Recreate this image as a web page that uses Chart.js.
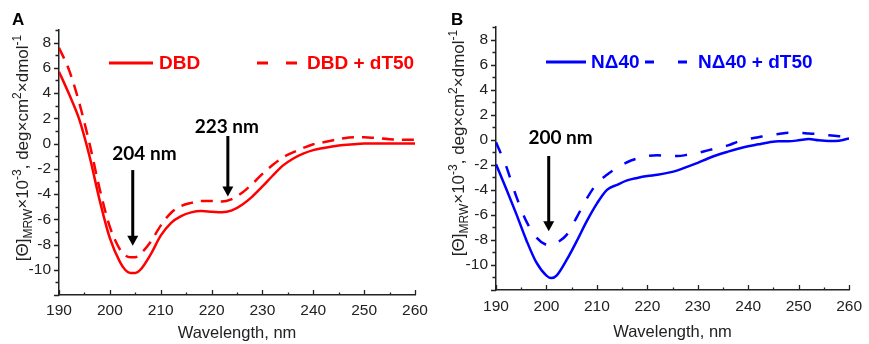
<!DOCTYPE html>
<html>
<head>
<meta charset="utf-8">
<script src="https://cdn.jsdelivr.net/npm/chart.js@4.4.0/dist/chart.umd.min.js"></script>
<style>
body{margin:0;background:#fff;width:869px;height:344px;overflow:hidden;position:relative}
canvas{position:absolute;top:0}
#chartA{left:0}
#chartB{left:434px}
</style>
</head>
<body>
<canvas id="chartA" width="434" height="344"></canvas>
<canvas id="chartB" width="435" height="344"></canvas>
<script>
// panel A: DBD
const wavelengthA = [190,192,194,196,198,200,202,203,204,205,206,208,210,212,214,216,218,220,222,224,226,228,230,232,234,236,238,240,242,245,248,250,252,255,258,260];
const dbd = [5.7,3.9,1.9,-1.0,-4.5,-7.5,-9.4,-10.0,-10.25,-10.25,-10.0,-8.8,-7.3,-6.3,-5.75,-5.45,-5.35,-5.4,-5.45,-5.3,-4.85,-4.2,-3.4,-2.55,-1.75,-1.2,-0.8,-0.52,-0.35,-0.15,-0.05,0,0,0,0,0];
const dbdDT50 = [7.6,5.8,3.2,0.0,-3.6,-6.6,-8.4,-8.85,-9.0,-9.0,-8.75,-7.8,-6.5,-5.5,-4.95,-4.7,-4.55,-4.55,-4.6,-4.4,-3.9,-3.2,-2.4,-1.7,-1.1,-0.7,-0.35,-0.05,0.1,0.35,0.5,0.5,0.45,0.35,0.3,0.3];

// panel B: N-delta-40
const wavelengthB = [190,192,194,196,198,200,201,202,204,206,208,210,212,214,216,218,220,222,224,226,228,230,232,234,236,238,240,242,244,246,248,250,252,254,256,258,260];
const nd40 = [-1.95,-3.9,-5.9,-8.0,-9.8,-10.85,-11.05,-10.85,-9.6,-8.1,-6.5,-5.1,-4.0,-3.6,-3.25,-3.05,-2.9,-2.8,-2.65,-2.45,-2.15,-1.85,-1.5,-1.2,-0.95,-0.72,-0.52,-0.37,-0.22,-0.12,-0.12,-0.05,0.05,-0.05,-0.1,-0.08,0.1];
const nd40DT50 = [-0.2,-2.1,-4.5,-6.5,-7.8,-8.4,-8.45,-8.25,-7.6,-6.2,-4.7,-3.5,-2.8,-2.25,-1.8,-1.5,-1.3,-1.25,-1.3,-1.3,-1.2,-1.05,-0.85,-0.65,-0.45,-0.15,0.05,0.2,0.35,0.45,0.55,0.55,0.5,0.45,0.35,0.28,0.25];

const xTicks = [190,200,210,220,230,240,250,260];
const yTicks = [-10,-8,-6,-4,-2,0,2,4,6,8];

// arrows: label, arrow wavelength, arrow top / tip value, label position
const peaksA = [
  {label: '204 nm', x: 204.5, top: -2.1, tip: -8.1, tx: 206.8, ty: -0.8},
  {label: '223 nm', x: 223.2, top: 0.6, tip: -4.2, tx: 223.0, ty: 1.35}
];
const peaksB = [
  {label: '200 nm', x: 200.45, top: -1.3, tip: -7.3, tx: 202.8, ty: 0.15}
];

const axisColor = '#222';
const sans = '"Liberation Sans", Arial, sans-serif';

const axisTicks = {
  id: 'axisTicks',
  afterDraw(chart) {
    const {ctx, chartArea, scales} = chart;
    ctx.save();
    ctx.strokeStyle = axisColor;
    ctx.lineWidth = 1.3;
    ctx.beginPath();
    for (let v = 190; v <= 260; v += 5) {
      let px = Math.round(scales.x.getPixelForValue(v)) + 0.5;
      let len = v % 10 == 0 ? 5 : 2.5;
      ctx.moveTo(px, chartArea.bottom);
      ctx.lineTo(px, chartArea.bottom - len);
    }
    for (let v = -12; v <= 9; v++) {
      let py = Math.round(scales.y.getPixelForValue(v)) + 0.5;
      let len = v % 2 == 0 ? 5 : 3.5;
      ctx.moveTo(chartArea.left, py);
      ctx.lineTo(chartArea.left - len, py);
    }
    ctx.stroke();
    ctx.restore();
  }
};

const yTitle = {
  id: 'yTitle',
  afterDraw(chart, args, opts) {
    const ctx = chart.ctx;
    const parts = [
      {t: '[\u0398]'}, {t: 'MRW', s: 1}, {t: '\u00d710'}, {t: '-3', s: -1},
      {t: ', deg\u00d7cm'}, {t: '2', s: -1}, {t: '\u00d7dmol'}, {t: '-1', s: -1}
    ];
    const big = '17px ' + sans;
    const small = '12px ' + sans;
    ctx.save();
    ctx.fillStyle = axisColor;
    ctx.textBaseline = 'alphabetic';
    let total = 0;
    parts.forEach((p) => {
      ctx.font = p.s ? small : big;
      p.w = ctx.measureText(p.t).width;
      total += p.w;
    });
    ctx.translate(opts.x, opts.y);
    ctx.rotate(-Math.PI / 2);
    let cx = -total / 2;
    parts.forEach((p) => {
      ctx.font = p.s ? small : big;
      let dy = p.s == 1 ? 4 : (p.s == -1 ? -7 : 0);
      ctx.fillText(p.t, cx, dy);
      cx += p.w;
    });
    ctx.restore();
    // panel letter
    ctx.save();
    ctx.fillStyle = '#000';
    ctx.font = 'bold 17px ' + sans;
    ctx.textBaseline = 'alphabetic';
    ctx.fillText(opts.letter, opts.lx, 25);
    ctx.restore();
  }
};

const legendRow = {
  id: 'legendRow',
  afterDraw(chart, args, opts) {
    const ctx = chart.ctx;
    ctx.save();
    chart.data.datasets.forEach((ds, i) => {
      let item = opts.items[i];
      ctx.strokeStyle = ds.borderColor;
      ctx.lineWidth = 3;
      ctx.setLineDash(item.dash || []);
      ctx.beginPath();
      ctx.moveTo(item.x0, opts.y);
      ctx.lineTo(item.x1, opts.y);
      ctx.stroke();
      ctx.setLineDash([]);
      ctx.fillStyle = ds.borderColor;
      ctx.font = 'bold 19px ' + sans;
      ctx.textBaseline = 'middle';
      ctx.fillText(ds.label, item.tx, opts.y + 1);
    });
    ctx.restore();
  }
};

const arrows = {
  id: 'arrows',
  afterDraw(chart, args, opts) {
    const {ctx, scales} = chart;
    ctx.save();
    ctx.fillStyle = '#000';
    ctx.strokeStyle = '#000';
    opts.items.forEach((a) => {
      let px = scales.x.getPixelForValue(a.x);
      let y0 = scales.y.getPixelForValue(a.top);
      let y1 = scales.y.getPixelForValue(a.tip);
      ctx.lineWidth = 3;
      ctx.beginPath();
      ctx.moveTo(px, y0);
      ctx.lineTo(px, y1 - 8);
      ctx.stroke();
      ctx.beginPath();
      ctx.moveTo(px - 5.5, y1 - 10);
      ctx.lineTo(px + 5.5, y1 - 10);
      ctx.lineTo(px, y1);
      ctx.closePath();
      ctx.fill();
      ctx.font = 'bold 19px Lato, "Open Sans", sans-serif';
      ctx.textAlign = 'center';
      ctx.textBaseline = 'middle';
      ctx.fillText(a.label, scales.x.getPixelForValue(a.tx), scales.y.getPixelForValue(a.ty));
    });
    ctx.restore();
  }
};

function makeOptions(p) {
  return {
    responsive: false,
    animation: false,
    layout: {padding: {left: 0, top: p.top, right: p.right, bottom: 0}},
    plugins: {
      legend: {display: false},
      tooltip: {enabled: false},
      yTitle: {x: p.titleX, y: p.titleY, letter: p.letter, lx: p.lx},
      legendRow: p.legend,
      arrows: {items: p.peaks}
    },
    scales: {
      x: {
        type: 'linear', min: 190, max: 260,
        afterBuildTicks: (s) => { s.ticks = xTicks.map((v) => ({value: v})); },
        afterFit: (s) => { s.height = p.xHeight; },
        grid: {display: false, drawTicks: false},
        border: {display: true, color: axisColor, width: 1.5},
        ticks: {color: axisColor, padding: p.xPad, maxRotation: 0, font: {family: sans, size: 15.5}},
        title: {display: true, text: 'Wavelength, nm', color: axisColor, padding: {top: 0, bottom: p.titlePad}, font: {family: sans, size: 16.5}}
      },
      y: {
        type: 'linear', min: -12, max: 9,
        afterBuildTicks: (s) => { s.ticks = yTicks.map((v) => ({value: v})); },
        afterFit: (s) => { s.width = p.yWidth; },
        grid: {display: false, drawTicks: false},
        border: {display: true, color: axisColor, width: 1.5},
        ticks: {color: axisColor, padding: 8, font: {family: sans, size: 15.5}}
      }
    }
  };
}

function toPoints(xs, ys) {
  return xs.map((x, i) => ({x: x, y: ys[i]}));
}

new Chart(document.getElementById('chartA'), {
  type: 'line',
  data: {
    datasets: [
      {label: 'DBD', data: toPoints(wavelengthA, dbd), borderColor: '#ff0000', borderWidth: 2.5, pointRadius: 0, cubicInterpolationMode: 'monotone'},
      {label: 'DBD + dT50', data: toPoints(wavelengthA, dbdDT50), borderColor: '#ff0000', borderWidth: 2.5, borderDash: [12, 8], pointRadius: 0, cubicInterpolationMode: 'monotone'}
    ]
  },
  options: makeOptions({
    top: 30, right: 19, xHeight: 49, yWidth: 59, xPad: 6, titlePad: 1,
    titleX: 28, titleY: 148, letter: 'A', lx: 12,
    legend: {y: 63, items: [{x0: 109, x1: 153, tx: 159}, {x0: 257, x1: 297, tx: 307, dash: [11, 18]}]},
    peaks: peaksA
  }),
  plugins: [axisTicks, yTitle, legendRow, arrows]
});

new Chart(document.getElementById('chartB'), {
  type: 'line',
  data: {
    datasets: [
      {label: 'N\u039440', data: toPoints(wavelengthB, nd40), borderColor: '#0000ff', borderWidth: 2.5, pointRadius: 0, cubicInterpolationMode: 'monotone'},
      {label: 'N\u039440 + dT50', data: toPoints(wavelengthB, nd40DT50), borderColor: '#0000ff', borderWidth: 2.5, borderDash: [12, 14], pointRadius: 0, cubicInterpolationMode: 'monotone'}
    ]
  },
  options: makeOptions({
    top: 27, right: 18, xHeight: 54, yWidth: 62, xPad: 7, titlePad: 2,
    titleX: 30, titleY: 143, letter: 'B', lx: 17,
    legend: {y: 62, items: [{x0: 112, x1: 152, tx: 157}, {x0: 211, x1: 253, tx: 264, dash: [9, 24]}]},
    peaks: peaksB
  }),
  plugins: [axisTicks, yTitle, legendRow, arrows]
});
</script>
</body>
</html>
